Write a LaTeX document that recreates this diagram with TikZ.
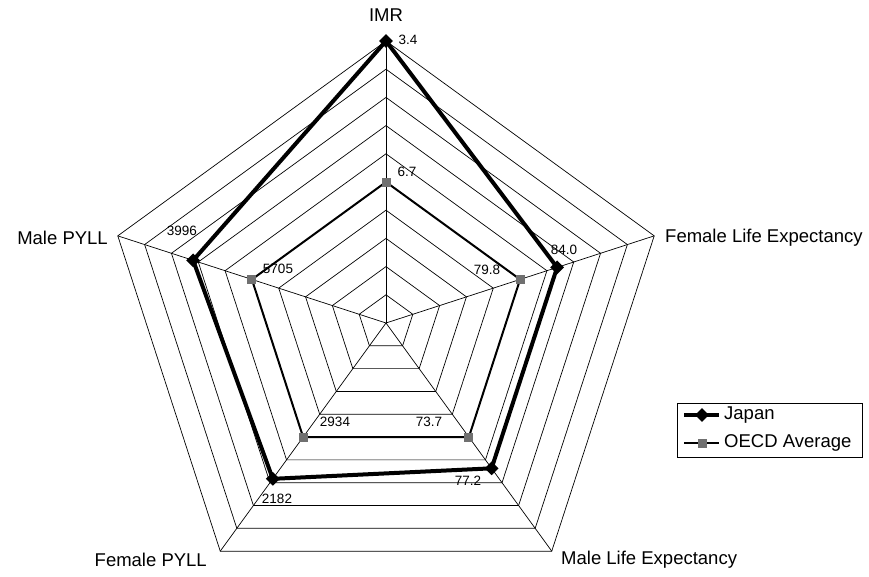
\documentclass[tikz,border=0pt]{standalone}
\usepackage{fontspec}
\setmainfont{Liberation Sans}
\usetikzlibrary{shapes.geometric}
\definecolor{markgray}{RGB}{112,112,112}
\begin{document}
\begin{tikzpicture}[x=1pt,y=1pt,declare function={r=282;},
	gridline/.style={line width=0.7pt},
	axlabel/.style={font=\fontsize{18.5}{20}\selectfont,inner sep=1pt},
	vallabel/.style={font=\fontsize{13.5}{15}\selectfont,inner sep=1pt},
	japan/.style={line width=4pt,line join=miter},
	oecd/.style={line width=2pt},
	jmark/.style={diamond,fill=black,minimum size=14pt,inner sep=0pt},
	omark/.style={rectangle,fill=markgray,minimum size=9pt,inner sep=0pt}]
	\useasboundingbox (-386,-253) rectangle (483,323);
	% rings and spokes
	\foreach \k in {1,...,10}
	\draw[gridline] (90:{\k*r/10})--(18:{\k*r/10})--(-54:{\k*r/10})--(-126:{\k*r/10})--(162:{\k*r/10})--cycle;
	\foreach \goc in {90,18,-54,-126,162}
	\draw[gridline] (0,0)--(\goc:r);
	% data
	\path (90:{0.5*r}) coordinate (O1)
	(18:{0.5*r}) coordinate (O2)
	(-54:{0.5*r}) coordinate (O3)
	(-126:{0.5*r}) coordinate (O4)
	(162:{0.5*r}) coordinate (O5);
	\path (90:{r}) coordinate (J1)
	(18:{0.638*r}) coordinate (J2)
	(-54:{0.637*r}) coordinate (J3)
	(-126:{0.683*r}) coordinate (J4)
	(162:{0.719*r}) coordinate (J5);
	\draw[oecd] (O1)--(O2)--(O3)--(O4)--(O5)--cycle;
	\draw[japan] (J1)--(J2)--(J3)--(J4)--(J5)--cycle;
	\foreach \x in {O1,O2,O3,O4,O5}
	\node[omark] (m\x) at (\x) {};
	\foreach \x in {J1,J2,J3,J4,J5}
	\node[jmark] (m\x) at (\x) {};
	% axis names
	\node[axlabel] (imr) at (0,308) {IMR};
	\node[axlabel,anchor=west] (fle) at (278,85) {Female Life Expectancy};
	\node[axlabel,anchor=west] (mle) at (174,-237) {Male Life Expectancy};
	\node[axlabel,anchor=east] (fpyll) at (-178,-237) {Female PYLL};
	\node[axlabel,anchor=east] (mpyll) at (-277,85) {Male PYLL};
	% values
	\foreach \v/\p/\t in {v1/{22,283}/3.4,v2/{21,151}/6.7,v3/{178,73}/84.0,v4/{101,53}/79.8,
		v5/{82,-158}/77.2,v6/{43,-99}/73.7,v7/{-51,-99}/2934,v8/{-109,-176}/2182,
		v9/{-204,92}/3996,v10/{-108,54}/5705}
	\node[vallabel] (\v) at (\p) {\t};
	% legend
	\draw[line width=0.8pt] (291,-80) rectangle (476,-134);
	\path (298,-92) coordinate (la) (333,-92) coordinate (lb)
	(298,-120) coordinate (lc) (333,-120) coordinate (ld);
	\draw[japan] (la)--(lb);
	\node[jmark] (lj) at (316,-92) {};
	\draw[oecd,line width=1.2pt] (lc)--(ld);
	\node[omark] (lo) at (316,-120) {};
	\node[axlabel,anchor=west] (ljt) at (337,-92) {Japan};
	\node[axlabel,anchor=west] (lot) at (337,-120) {OECD Average};
\end{tikzpicture}
\end{document}
